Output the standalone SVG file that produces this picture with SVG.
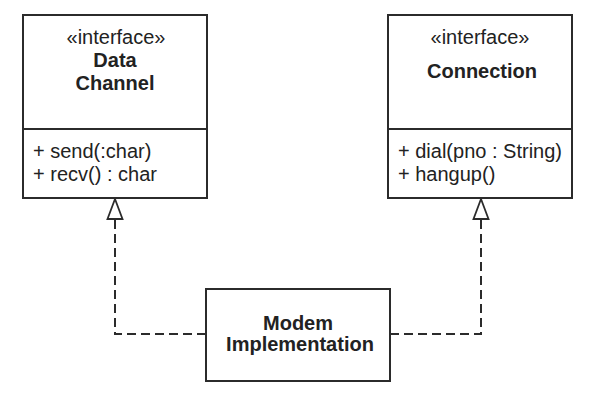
<svg xmlns="http://www.w3.org/2000/svg" width="606" height="410" viewBox="0 0 606 410">
<defs>
<style>
.box{fill:#fff;stroke:#2b2b2b;stroke-width:2}
.div{stroke:#2b2b2b;stroke-width:2}
.t{font-family:"Liberation Sans",Arial,sans-serif;font-size:20px;fill:#222}
.b{font-weight:bold}
.c{text-anchor:middle}
.dash{fill:none;stroke:#2b2b2b;stroke-width:2;stroke-dasharray:9 5}
.head{fill:#fff;stroke:#2b2b2b;stroke-width:1.8}
</style>
</defs>
<rect width="606" height="410" fill="#fff"/>
<g id="connectors">
<path class="dash" d="M206,334 H115 V219"/>
<path class="dash" d="M390,334 H481 V219"/>
<polygon class="head" points="115,199 107.5,219 122.5,219"/>
<polygon class="head" points="481,199 473.5,219 488.5,219"/>
</g>
<g id="DataChannel">
<rect class="box" x="23" y="15" width="184" height="183"/>
<line class="div" x1="23" y1="129" x2="207" y2="129"/>
<text class="t c" x="116" y="44">«interface»</text>
<text class="t b c" x="115" y="67">Data</text>
<text class="t b c" x="115" y="90">Channel</text>
<text class="t" x="33" y="158">+ send(:char)</text>
<text class="t" x="33" y="181">+ recv() : char</text>
</g>
<g id="Connection">
<rect class="box" x="388" y="15" width="184" height="183"/>
<line class="div" x1="388" y1="129" x2="572" y2="129"/>
<text class="t c" x="480" y="44">«interface»</text>
<text class="t b c" x="482" y="78">Connection</text>
<text class="t" x="398" y="158">+ dial(pno : String)</text>
<text class="t" x="398" y="181">+ hangup()</text>
</g>
<g id="ModemImplementation">
<rect class="box" x="206" y="289" width="184" height="92"/>
<text class="t b c" x="298" y="330">Modem</text>
<text class="t b c" x="300" y="351">Implementation</text>
</g>
</svg>
